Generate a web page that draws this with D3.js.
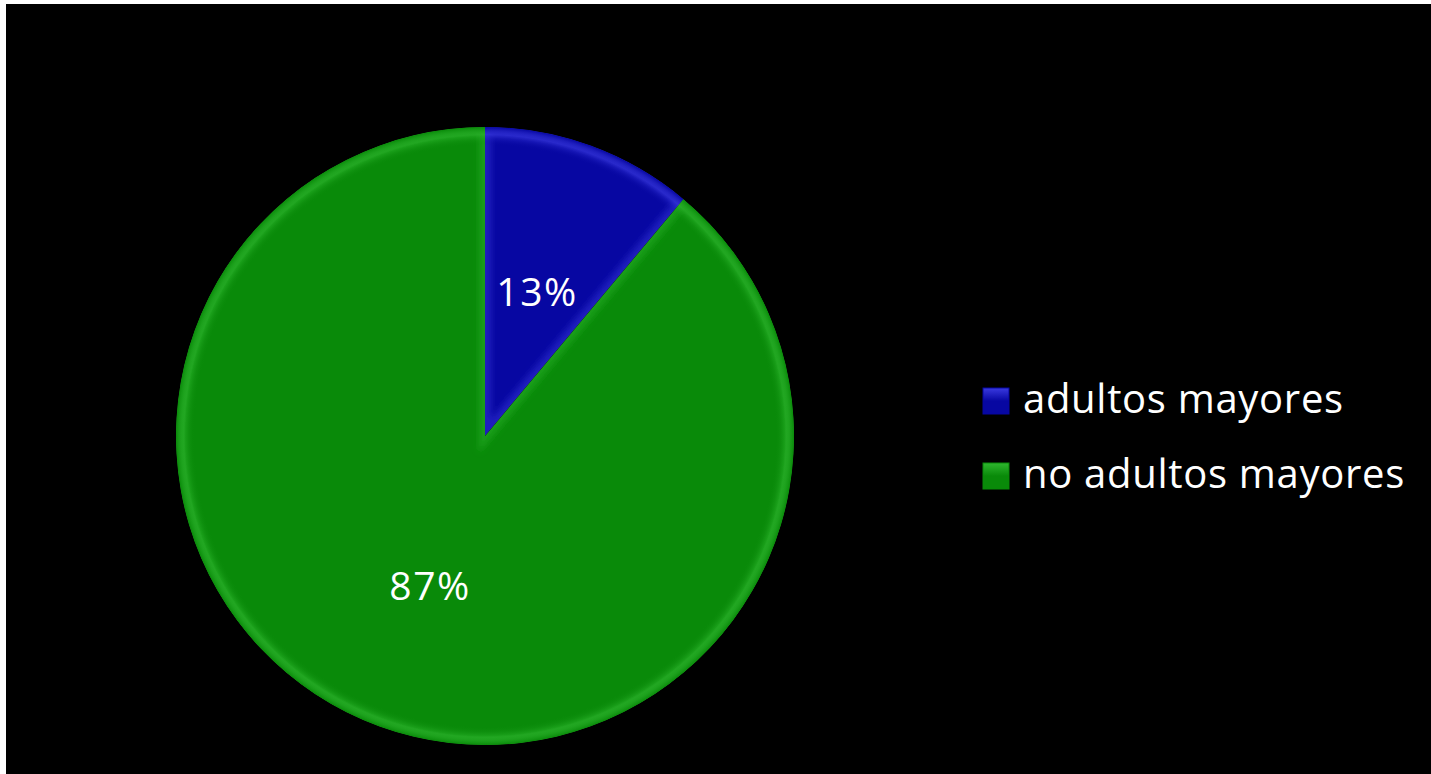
<!DOCTYPE html>
<html>
<head>
<meta charset="utf-8">
<script src="https://cdn.jsdelivr.net/npm/d3@7"></script>
<style>
  html, body { margin: 0; padding: 0; background: #000; }
  svg { display: block; }
  text { font-family: "Open Sans", Lato, sans-serif; fill: #fff; }
</style>
</head>
<body>
<svg width="1431" height="774"></svg>
<script>
// --- data (share, label text as printed) ---
const categories = ["adultos mayores", "no adultos mayores"];
const values = [11.1, 88.9];
const labels = ["13%", "87%"];
const colors = ["#0707a2", "#098a09"];
const lightColors = ["#3a3ae0", "#2fb62f"];

const svg = d3.select("svg");
const W = 1431, H = 774;

// white frame on top/left like the picture
svg.append("rect").attr("width", W).attr("height", H).attr("fill", "#fff");
svg.append("rect").attr("x", 6).attr("y", 4).attr("width", W - 6).attr("height", H - 4).attr("fill", "#000");

const cx = 485, cy = 436, R = 309;
const defs = svg.append("defs");

defs.append("filter").attr("id", "soft")
  .append("feGaussianBlur").attr("stdDeviation", 3);

const pie = d3.pie().sort(null).value(d => d)(values);
const arc = d3.arc().innerRadius(0).outerRadius(R);

const g = svg.append("g").attr("transform", `translate(${cx},${cy})`);

pie.forEach((p, i) => {
  defs.append("clipPath").attr("id", "clip" + i)
    .append("path").attr("d", arc(p));

  const rg = defs.append("radialGradient").attr("id", "rim" + i)
    .attr("gradientUnits", "userSpaceOnUse")
    .attr("cx", 0).attr("cy", 0).attr("r", R);
  rg.append("stop").attr("offset", 0.94).attr("stop-color", colors[i]).attr("stop-opacity", 0);
  rg.append("stop").attr("offset", 0.975).attr("stop-color", lightColors[i]).attr("stop-opacity", 0.6);
  rg.append("stop").attr("offset", 1).attr("stop-color", colors[i]).attr("stop-opacity", 1);

  const sg = g.append("g").attr("clip-path", `url(#clip${i})`);
  sg.append("path").attr("d", arc(p)).attr("fill", colors[i]);
  // soft bevel along straight edges
  sg.append("path").attr("d", arc(p))
    .attr("fill", "none")
    .attr("stroke", lightColors[i])
    .attr("stroke-width", 12)
    .attr("stroke-opacity", 0.45)
    .attr("filter", "url(#soft)");
  // rim highlight
  sg.append("circle").attr("r", R).attr("fill", `url(#rim${i})`);
});

// data labels
g.selectAll(".lbl")
  .data(pie)
  .join("text")
  .attr("class", "lbl")
  .attr("x", (d, i) => i === 0 ? 52 : -55)
  .attr("y", (d, i) => i === 0 ? -140 : 154)
  .attr("text-anchor", "middle")
  .attr("dominant-baseline", "middle")
  .attr("font-size", 39)
  .attr("letter-spacing", 1.5)
  .text((d, i) => labels[i]);

// legend
const legend = svg.append("g").attr("transform", "translate(983,388)");
const row = legend.selectAll("g")
  .data(categories)
  .join("g")
  .attr("transform", (d, i) => `translate(0,${i * 75})`);

categories.forEach((c, i) => {
  const lg = defs.append("linearGradient").attr("id", "lg" + i)
    .attr("x1", 0).attr("y1", 0).attr("x2", 0).attr("y2", 1);
  lg.append("stop").attr("offset", 0).attr("stop-color", lightColors[i]);
  lg.append("stop").attr("offset", 0.5).attr("stop-color", colors[i]);
  lg.append("stop").attr("offset", 1).attr("stop-color", colors[i]);
});

row.append("rect")
  .attr("width", 26).attr("height", 26)
  .attr("fill", (d, i) => `url(#lg${i})`)
  .attr("stroke", (d, i) => colors[i])
  .attr("stroke-width", 1);

row.append("text")
  .attr("x", 40)
  .attr("y", 25)
  .attr("font-size", 40)
  .attr("letter-spacing", 0.7)
  .text(d => d);
</script>
</body>
</html>
